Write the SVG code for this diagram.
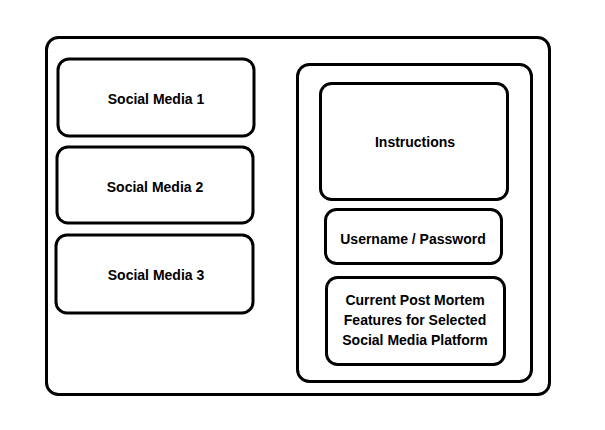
<svg xmlns="http://www.w3.org/2000/svg" width="605" height="430" viewBox="0 0 605 430">
<style>
.box{fill:#fff;stroke:#000;stroke-width:3}
.t{font-family:"Liberation Sans",Arial,sans-serif;font-weight:bold;font-size:14px;fill:#000;text-anchor:middle;dominant-baseline:central}
</style>
<rect width="605" height="430" fill="#fff"/>
<g id="frame"><rect class="box" x="46.5" y="37.5" width="503" height="357" rx="12"/></g>
<g id="sm1"><rect class="box" x="58" y="59" width="196" height="77" rx="11"/><text class="t" x="156" y="99">Social Media 1</text></g>
<g id="sm2"><rect class="box" x="57" y="147" width="196" height="76" rx="11"/><text class="t" x="155" y="187">Social Media 2</text></g>
<g id="sm3"><rect class="box" x="56" y="235" width="197" height="78" rx="11"/><text class="t" x="156" y="275">Social Media 3</text></g>
<g id="panel"><rect class="box" x="297.5" y="64.5" width="234" height="317" rx="12"/></g>
<g id="instructions"><rect class="box" x="320.5" y="83.5" width="187" height="116" rx="11"/><text class="t" x="415" y="142">Instructions</text></g>
<g id="login"><rect class="box" x="325.5" y="209.5" width="176" height="54" rx="11"/><text class="t" x="413" y="239">Username / Password</text></g>
<g id="features"><rect class="box" x="326.5" y="277.5" width="178" height="87" rx="11"/><text class="t" x="415" y="300">Current Post Mortem</text><text class="t" x="415" y="320">Features for Selected</text><text class="t" x="415" y="340">Social Media Platform</text></g>
<g id="connectors"/>
</svg>
